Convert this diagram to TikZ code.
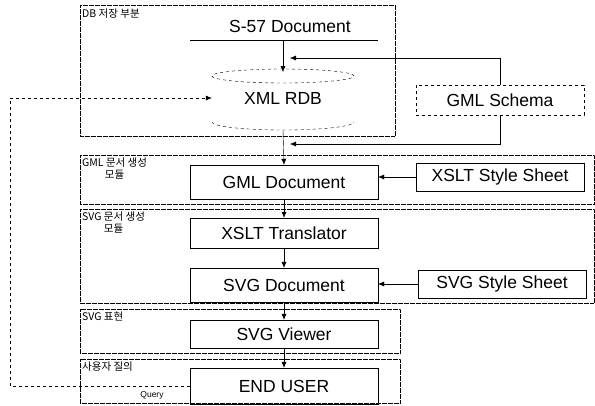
\documentclass[tikz,border=0pt]{standalone}
\usepackage{fontspec}
\setmainfont{Liberation Sans}
\newfontfamily\kofont{Noto Sans CJK KR}
\usetikzlibrary{arrows.meta}
\begin{document}
\begin{tikzpicture}[x=1pt, y=-1pt,
  box/.style={draw, thin, minimum width=188pt, minimum height=32pt, font=\fontsize{17.5}{20}\selectfont},
  sidebox/.style={draw, thin, minimum width=168pt, minimum height=30pt, font=\fontsize{17.5}{20}\selectfont},
  sect/.style={draw, densely dotted, very thin},
  lbl/.style={anchor=north west, font=\kofont\fontsize{10.5}{12}\selectfont, align=center, inner sep=1pt},
  arr/.style={-{Latex[length=6pt,width=5pt]}, thin}]
  \useasboundingbox (0,0) rectangle (595,405);

  % module frames
  \draw[sect] (80,5) rectangle (395,136);
  \draw[sect] (80,155) rectangle (594,204);
  \draw[sect] (80,209) rectangle (594,303);
  \draw[sect] (80,309) rectangle (400,353);
  \draw[sect] (80,359) rectangle (400,403);

  % module names
  \node[lbl] (m1) at (81,8) {DB 저장 부분};
  \node[lbl] (m2) at (81,157) {GML 문서 생성\\모듈};
  \node[lbl] (m3) at (81,211) {SVG 문서 생성\\모듈};
  \node[lbl] (m4) at (81,311) {SVG 표현};
  \node[lbl] (m5) at (81,361) {사용자 질의};

  % DB part
  \node[font=\fontsize{17.5}{20}\selectfont] (s57) at (290,26) {S-57 Document};
  \draw (190,40) -- (378,40);
  \coordinate (s57bot) at (283,40);
  \node[minimum width=142pt, minimum height=40pt, font=\fontsize{17.5}{20}\selectfont] (rdb) at (283,98) {XML RDB};
  \draw[dashed] (283,76) ellipse (71pt and 7pt);
  \draw[dashed] (212,122) arc[start angle=180, end angle=360, x radius=71pt, y radius=8pt];
  \coordinate (rdbtop) at (283,72);
  \coordinate (rdbbot) at (283,130);
  \node[sidebox, dashed] (gmlschema) at (500,100) {GML Schema};

  % document chain
  \node[box, minimum height=34pt] (gmldoc) at (284,182) {GML Document};
  \node[box, minimum height=30pt] (xsltt) at (284,233) {XSLT Translator};
  \node[box, minimum height=34pt] (svgdoc) at (284,285) {SVG Document};
  \node[box, minimum height=28pt] (viewer) at (284,334) {SVG Viewer};
  \node[box, minimum height=36pt] (enduser) at (284,386) {END USER};
  \node[sidebox, minimum height=28pt] (xslsheet) at (500,177) {XSLT Style Sheet};
  \node[sidebox, minimum height=28pt] (svgsheet) at (502,284) {SVG Style Sheet};

  % connectors
  \coordinate (schin) at (290,58);
  \coordinate (schout) at (290,144);
  \draw[arr] (s57bot) -- (rdbtop);
  \draw[arr] (gmlschema.north) |- (schin);
  \draw[arr] (gmlschema.south) |- (schout);
  \draw[arr] (rdbbot) -- (gmldoc.north);
  \draw[arr] (gmldoc) -- (xsltt);
  \draw[arr] (xsltt) -- (svgdoc);
  \draw[arr] (svgdoc) -- (viewer);
  \draw[arr] (viewer) -- (enduser);
  \draw[arr] (xslsheet.west) -- (gmldoc.east |- xslsheet.west);
  \draw[arr] (svgsheet.west) -- (svgdoc.east |- svgsheet.west);

  % query loop
  \coordinate (qa) at (10,386);
  \coordinate (qb) at (10,98);
  \draw[arr, dashed] (enduser.west |- qa) -- (qa) -- (qb) -- (rdb.west);
  \node[font=\fontsize{8.5}{10}\selectfont] (query) at (152,395) {Query};
\end{tikzpicture}
\end{document}
